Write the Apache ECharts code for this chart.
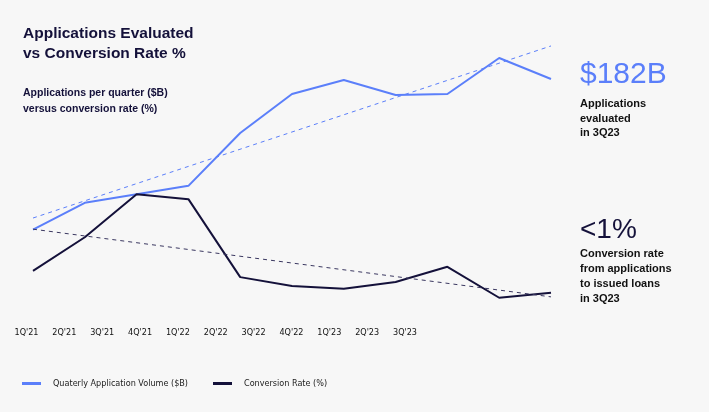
<!DOCTYPE html>
<html>
<head>
<meta charset="utf-8">
<script src="https://cdn.jsdelivr.net/npm/echarts@6/dist/echarts.min.js"></script>
<style>
html,body{margin:0;padding:0;background:#f7f7f7;}
#c{width:709px;height:412px;}
</style>
</head>
<body>
<div id="c"></div>
<script>
var categories = ["1Q'21","2Q'21","3Q'21","4Q'21","1Q'22","2Q'22","3Q'22","4Q'22","1Q'23","2Q'23","3Q'23"];
var volume = [58, 80, 87, 94, 137.5, 169.6, 181.2, 168.8, 169.6, 199.3, 182];
var conversion = [1.25, 2.0, 2.96, 2.85, 1.11, 0.91, 0.85, 1.0, 1.34, 0.65, 0.76];
var volumeTrend = [67.5, null, null, null, null, null, null, null, null, null, 209.2];
var conversionTrend = [2.18, null, null, null, null, null, null, null, null, null, 0.67];

var NAVY = '#14113a';
var BLUE = '#5b7ffa';
var narrow = "'Liberation Sans Narrow','DejaVu Sans Condensed','Liberation Sans',sans-serif";
var base = "'Liberation Sans','Helvetica',Arial,sans-serif";

var chart = echarts.init(document.getElementById('c'));
chart.setOption({
  backgroundColor: '#f7f7f7',
  animation: false,
  title: [
    {text: 'Applications Evaluated\nvs Conversion Rate %', left: 18, top: 19,
     textStyle: {fontFamily: base, fontSize: 15.5, lineHeight: 20, fontWeight: 'bold', color: NAVY}},
    {text: 'Applications per quarter ($B)\nversus conversion rate (%)', left: 18, top: 80,
     textStyle: {fontFamily: base, fontSize: 10.5, lineHeight: 16, fontWeight: 'bold', color: NAVY}},
    {text: '$182B', left: 575, top: 52,
     textStyle: {fontFamily: base, fontSize: 30, lineHeight: 36, fontWeight: 'normal', color: BLUE}},
    {text: 'Applications\nevaluated\nin 3Q23', left: 575, top: 92,
     textStyle: {fontFamily: base, fontSize: 11, lineHeight: 14.5, fontWeight: 'bold', color: '#111'}},
    {text: '<1%', left: 575, top: 208,
     textStyle: {fontFamily: base, fontSize: 28, lineHeight: 34, fontWeight: 'normal', color: NAVY}},
    {text: 'Conversion rate\nfrom applications\nto issued loans\nin 3Q23', left: 575, top: 241.5,
     textStyle: {fontFamily: base, fontSize: 11, lineHeight: 15, fontWeight: 'bold', color: '#111'}}
  ],
  legend: {
    left: 17, top: 374, itemWidth: 19, itemHeight: 3, itemGap: 25,
    icon: 'rect',
    data: ['Quaterly Application Volume ($B)', 'Conversion Rate (%)'],
    textStyle: {fontFamily: narrow, fontSize: 9, color: '#222', padding: [0, 0, 0, 7]}
  },
  grid: [
    {left: 33, right: 158, top: 40, bottom: 112},
    {left: 26.5, right: 304, top: 40, bottom: 89}
  ],
  xAxis: [
    {type: 'category', gridIndex: 0, data: categories, boundaryGap: false,
     axisLine: {show: false}, axisTick: {show: false}, axisLabel: {show: false}, splitLine: {show: false}},
    {type: 'category', gridIndex: 1, data: categories, boundaryGap: false,
     axisLine: {show: false}, axisTick: {show: false}, splitLine: {show: false},
     axisLabel: {show: true, margin: 5, fontFamily: narrow, fontSize: 9, color: '#111'}}
  ],
  yAxis: [
    {type: 'value', gridIndex: 0, min: 0, max: 214.1, show: false},
    {type: 'value', gridIndex: 0, min: 0.6, max: 6.4, show: false},
    {type: 'value', gridIndex: 1, min: 0, max: 1, show: false}
  ],
  series: [
    {name: 'Quaterly Application Volume ($B)', type: 'line', xAxisIndex: 0, yAxisIndex: 0,
     data: volume, symbol: 'none', color: BLUE, lineStyle: {width: 2, color: BLUE}},
    {name: 'Conversion Rate (%)', type: 'line', xAxisIndex: 0, yAxisIndex: 1,
     data: conversion, symbol: 'none', color: NAVY, lineStyle: {width: 2, color: NAVY}},
    {name: 'volTrend', type: 'line', xAxisIndex: 0, yAxisIndex: 0, data: volumeTrend, connectNulls: true,
     symbol: 'none', lineStyle: {width: 1, type: [4, 4], color: BLUE}, silent: true},
    {name: 'convTrend', type: 'line', xAxisIndex: 0, yAxisIndex: 1, data: conversionTrend, connectNulls: true,
     symbol: 'none', lineStyle: {width: 1, type: [4, 4], color: '#3a3760'}, silent: true}
  ]
});
</script>
</body>
</html>
